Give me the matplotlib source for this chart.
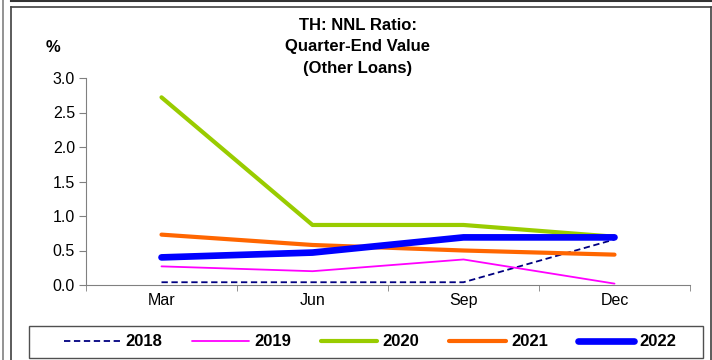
import matplotlib.pyplot as plt
from matplotlib.lines import Line2D
from matplotlib.patches import Rectangle
import numpy as np

plt.rcParams['font.family'] = ['Liberation Sans', 'DejaVu Sans']

# Dados
trimestres = ['Mar', 'Jun', 'Sep', 'Dec']
anos = ['2018', '2019', '2020', '2021', '2022']
v2018 = [0.04, 0.04, 0.04, 0.66]
v2019 = [0.27, 0.20, 0.37, 0.02]
v2020 = [2.72, 0.87, 0.87, 0.70]
v2021 = [0.73, 0.58, 0.50, 0.44]
v2022 = [0.40, 0.47, 0.69, 0.69]

series = [v2018, v2019, v2020, v2021, v2022]
cores = ['#000080', '#FF00FF', '#99CC00', '#FF6600', '#0000FF']
larguras = [1.3, 1.3, 3.0, 3.0, 4.8]
estilos = [(0, (3.5, 2)), '-', '-', '-', '-']

fig = plt.figure(figsize=(7.12, 3.6), dpi=100)
W, H = 712, 360

# moldura
fig.add_artist(Line2D([3 / W, 3 / W], [0, 1], color='#808080', lw=1.2))
fig.add_artist(Line2D([11 / W, 1], [1 - 0.5 / H, 1 - 0.5 / H], color='#333333', lw=1.5))
fig.add_artist(Line2D([11 / W, 11 / W], [0, 1 - 7 / H], color='#404040', lw=1.2))
fig.add_artist(Line2D([11 / W, 711 / W], [1 - 7 / H, 1 - 7 / H], color='#404040', lw=1.2))
fig.add_artist(Line2D([710.5 / W, 710.5 / W], [0, 1 - 7 / H], color='#404040', lw=1.2))

ax = fig.add_axes([86 / W, (H - 285) / H, (690 - 86) / W, (285 - 78) / H])
x = np.arange(len(trimestres))
for vals, ano, c, lw, ls in zip(series, anos, cores, larguras, estilos):
    ax.plot(x, vals, color=c, lw=lw, linestyle=ls, label=ano, solid_capstyle='round')

ax.set_xlim(-0.5, 3.5)
ax.set_ylim(0, 3.0)
ax.set_yticks(np.arange(0, 3.01, 0.5))
ax.set_yticklabels([f'{v:.1f}' for v in np.arange(0, 3.01, 0.5)], fontsize=11.5)
ax.set_xticks(x)
ax.set_xticklabels(trimestres, fontsize=11.5)
ax.set_xticks(np.arange(-0.5, 3.6, 1), minor=True)
ax.tick_params(axis='x', which='major', length=0, pad=6)
ax.tick_params(axis='x', which='minor', length=4, direction='out', color='#808080')
ax.tick_params(axis='y', length=5, color='#808080', pad=3)
for s in ['top', 'right']:
    ax.spines[s].set_visible(False)
for s in ['left', 'bottom']:
    ax.spines[s].set_color('#808080')

fig.text(358 / W, 1 - 47 / H, 'TH: NNL Ratio:\nQuarter-End Value\n(Other Loans)',
         ha='center', va='center', fontsize=12, fontweight='bold', linespacing=1.5)
fig.text(53 / W, 1 - 48 / H, '%', ha='center', va='center', fontsize=12, fontweight='bold')

# legenda
fig.add_artist(Rectangle((29 / W, (H - 358) / H), (703 - 29) / W, 32 / H,
                         transform=fig.transFigure, fill=False, edgecolor='#505050', lw=1.0))
fig.legend(loc='center', bbox_to_anchor=(370 / W, 1 - 342 / H), ncol=5,
           frameon=False, prop={'weight': 'bold', 'size': 12}, handlelength=3.4,
           columnspacing=1.8, handletextpad=0.3, borderpad=0.2)

plt.savefig('out.png', dpi=100)
